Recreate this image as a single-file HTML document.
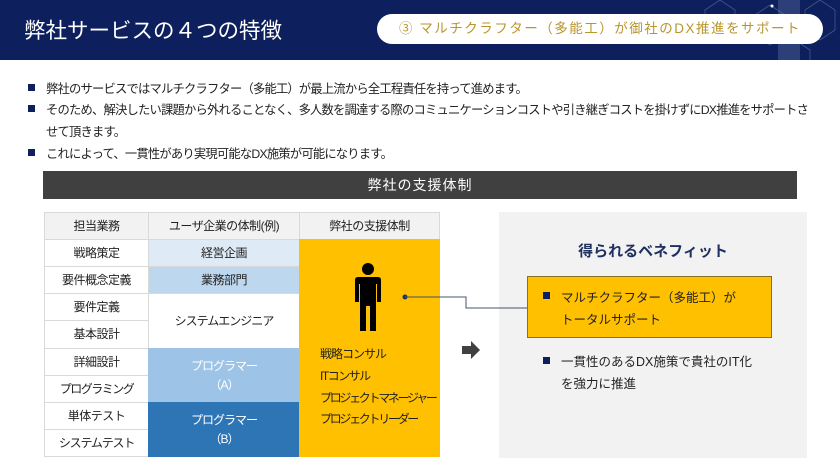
<!DOCTYPE html>
<html><head><meta charset="utf-8"><style>
*{margin:0;padding:0;box-sizing:border-box}
body{width:840px;height:473px;position:relative;background:#fff;font-family:"Liberation Sans","Noto Sans CJK JP",sans-serif;overflow:hidden;color:#222}
.a{position:absolute}
.hdr{left:0;top:0;width:840px;height:60px;background:#0d1f5c}
.t{left:24px;top:14px;font-size:21.5px;color:#fff;white-space:nowrap}
.pill{left:377px;top:14px;width:446px;height:30px;background:#fff;border-radius:15px;color:#b8962e;font-size:13.5px;letter-spacing:1.5px;line-height:30px;text-align:center;white-space:nowrap}
.b{font-size:12.3px;letter-spacing:-0.8px;white-space:nowrap;color:#222}
.sq{width:7px;height:7px;background:#0d1f5c}
.bar{left:43px;top:171px;width:754px;height:28px;background:#404040;color:#fff;font-size:14px;text-align:center;line-height:28px;letter-spacing:1px}
.c{position:absolute;display:flex;align-items:center;justify-content:center;text-align:center;font-size:12px;letter-spacing:-0.5px;border:1px solid #d9d9d9;line-height:1.55}
.ct{font-size:12px;white-space:nowrap}
.cs{font-size:12px;letter-spacing:-2.3px;white-space:nowrap}
</style></head><body>
<div class="a hdr"></div>
<svg class="a" style="left:660px;top:0" width="180" height="60">
<g stroke="#5a6ea8" stroke-width="0.8" fill="none" opacity="0.7">
<path d="M60 0 L75 10 L75 30 L60 40 L45 30 L45 10Z"/><path d="M110 5 L125 15 L125 35 L110 45 L95 35 L95 15Z"/><path d="M160 0 L175 10 L175 30 L160 40 L145 30 L145 10Z"/><path d="M135 40 L150 50 L150 60"/></g>
<rect x="118" y="0" width="22" height="60" fill="#6a7cb0" opacity="0.35"/>
<circle cx="112" cy="6" r="1.5" fill="#fff"/></svg>
<div class="a t">弊社サービスの４つの特徴</div>
<div class="a pill">③ マルチクラフター（多能工）が御社のDX推進をサポート</div>

<div class="a sq" style="left:28px;top:84px"></div><div class="a b" style="left:46px;top:79px">弊社のサービスではマルチクラフター（多能工）が最上流から全工程責任を持って進めます。</div>
<div class="a sq" style="left:28px;top:105px"></div><div class="a b" style="left:46px;top:100px">そのため、解決したい課題から外れることなく、多人数を調達する際のコミュニケーションコストや引き継ぎコストを掛けずにDX推進をサポートさ</div>
<div class="a b" style="left:46px;top:122px">せて頂きます。</div>
<div class="a sq" style="left:28px;top:149px"></div><div class="a b" style="left:46px;top:144px">これによって、一貫性があり実現可能なDX施策が可能になります。</div>

<div class="a bar">弊社の支援体制</div>

<div class="c" style="left:44px;top:212px;width:105px;height:28px;background:#f2f2f2">担当業務</div>
<div class="c" style="left:148px;top:212px;width:152px;height:28px;background:#f2f2f2">ユーザ企業の体制(例)</div>
<div class="c" style="left:299px;top:212px;width:141px;height:28px;background:#f2f2f2">弊社の支援体制</div>
<div class="c" style="left:44px;top:239px;width:105px;height:28px">戦略策定</div>
<div class="c" style="left:44px;top:266px;width:105px;height:28px">要件概念定義</div>
<div class="c" style="left:44px;top:293px;width:105px;height:28px">要件定義</div>
<div class="c" style="left:44px;top:320px;width:105px;height:29px">基本設計</div>
<div class="c" style="left:44px;top:348px;width:105px;height:28px">詳細設計</div>
<div class="c" style="left:44px;top:375px;width:105px;height:28px;letter-spacing:-1.5px">プログラミング</div>
<div class="c" style="left:44px;top:402px;width:105px;height:28px">単体テスト</div>
<div class="c" style="left:44px;top:429px;width:105px;height:28px;letter-spacing:-1.2px">システムテスト</div>
<div class="c" style="left:148px;top:239px;width:152px;height:28px;background:#deebf7">経営企画</div>
<div class="c" style="left:148px;top:266px;width:152px;height:28px;background:#bdd7ee">業務部門</div>
<div class="c" style="left:148px;top:293px;width:152px;height:56px;background:#fff;letter-spacing:-1px">システムエンジニア</div>
<div class="c" style="left:148px;top:348px;width:152px;height:55px;background:#9dc3e6;color:#fff;border-color:#9dc3e6;letter-spacing:-1px">プログラマー<br>（A）</div>
<div class="c" style="left:148px;top:402px;width:152px;height:55px;background:#2e75b6;color:#fff;border-color:#2e75b6;letter-spacing:-1px">プログラマー<br>（B）</div>
<div class="a" style="left:299px;top:239px;width:141px;height:218px;background:#ffc000"></div>
<svg class="a" style="left:350px;top:262px" width="36" height="70" viewBox="0 0 36 70">
<circle cx="18" cy="7" r="6" fill="#000"/>
<path d="M8 15 H28 Q31 15 31 18 V40 H27 V22 H26 V69 H20 V44 H16 V69 H10 V22 H9 V40 H5 V18 Q5 15 8 15Z" fill="#000"/></svg>
<div class="a cs" style="left:320px;top:345px;letter-spacing:-1px">戦略コンサル</div>
<div class="a cs" style="left:320px;top:367px;letter-spacing:-1.5px">ITコンサル</div>
<div class="a cs" style="left:320px;top:389px">プロジェクトマネージャー</div>
<div class="a cs" style="left:320px;top:410px">プロジェクトリーダー</div>

<div class="a" style="left:499px;top:212px;width:308px;height:246px;background:#f2f2f2"></div>
<svg class="a" style="left:0;top:0" width="840" height="473">
<circle cx="405" cy="297" r="2.5" fill="#1f2f5f"/>
<polyline points="405,297 466,297 466,308 527,308" fill="none" stroke="#44546a" stroke-width="1"/>
<path d="M462 346 H471 V341 L480 350 L471 359 V354 H462Z" fill="#404040"/>
</svg>
<div class="a" style="left:499px;top:240px;width:308px;text-align:center;font-size:15px;font-weight:bold;color:#1f2f5f">得られるベネフィット</div>
<div class="a" style="left:527px;top:276px;width:245px;height:62px;background:#ffc000;border:1px solid #8a7020"></div>
<div class="a sq" style="left:543px;top:292px"></div>
<div class="a ct" style="left:561px;top:287px;font-size:12.5px">マルチクラフター（多能工）が</div>
<div class="a ct" style="left:561px;top:309px;font-size:12.5px">トータルサポート</div>
<div class="a sq" style="left:543px;top:357px"></div>
<div class="a ct" style="left:561px;top:351px;font-size:12.5px">一貫性のあるDX施策で貴社のIT化</div>
<div class="a ct" style="left:561px;top:373px;font-size:12.5px">を強力に推進</div>
</body></html>
